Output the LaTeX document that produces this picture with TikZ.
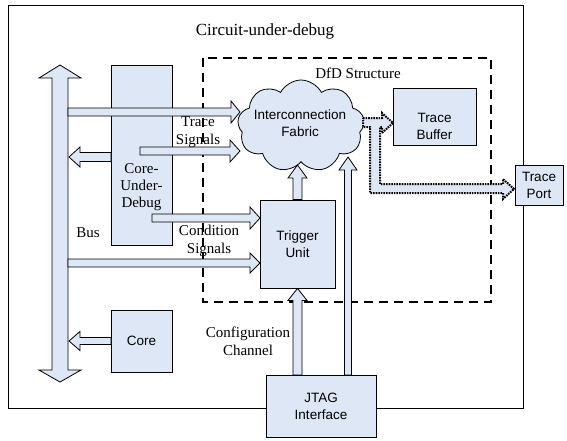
\documentclass[tikz,border=0pt]{standalone}
\usepackage{fontspec}
\setmainfont{Liberation Serif}
\newfontfamily\arialf{Liberation Sans}
\usetikzlibrary{shapes.symbols,calc}
\definecolor{boxfill}{RGB}{221,231,245}
\tikzset{
 box/.style={draw=black, fill=boxfill, line width=0.8pt, inner sep=0pt},
 sanslbl/.style={font=\arialf\fontsize{13.5}{17}\selectfont, align=center, inner sep=0pt},
 seriflbl/.style={font=\fontsize{15}{18}\selectfont, align=center, inner sep=0pt},
 barrow/.style={draw=black, fill=boxfill, line width=0.8pt, line join=miter},
 dotarrow/.style={draw=black, fill=boxfill, line width=2pt, dash pattern=on 1.6pt off 1pt},
}
% horizontal block arrow: tail, tip, half shaft, half head, signed head length
\newcommand\harr[5]{%
 \draw[barrow] ($#1+(0,{-(#3)})$) -- ($#2+({-(#5)},{-(#3)})$) -- ($#2+({-(#5)},{-(#4)})$) -- #2
  -- ($#2+({-(#5)},#4)$) -- ($#2+({-(#5)},#3)$) -- ($#1+(0,#3)$) -- cycle;}
% vertical block arrow
\newcommand\varr[5]{%
 \draw[barrow] ($#1+({-(#3)},0)$) -- ($#2+({-(#3)},{-(#5)})$) -- ($#2+({-(#4)},{-(#5)})$) -- #2
  -- ($#2+(#4,{-(#5)})$) -- ($#2+(#3,{-(#5)})$) -- ($#1+(#3,0)$) -- cycle;}
\begin{document}
\begin{tikzpicture}[x=1pt,y=-1pt]
\useasboundingbox (0,0) rectangle (567,440);
% outer frame
\draw[line width=1pt] (8,5) rectangle (523,408);
\node[font=\fontsize{17}{20}\selectfont, inner sep=0pt] (title) at (265,31) {Circuit-under-debug};
% DfD dashed frame
\draw[line width=1.8pt, dash pattern=on 9pt off 6pt] (203,58) rectangle (491,302);
\node[seriflbl] (dfdlbl) at (358,73) {DfD Structure};
% boxes
\node[box, minimum width=61pt, minimum height=180pt] (cud) at (141.5,155) {};
\node[seriflbl, font=\fontsize{15}{17}\selectfont] (cudtxt) at (141.5,187) {Core-\\Under-\\Debug};
\node[box, minimum width=61pt, minimum height=62pt, sanslbl] (core) at (141.5,341) {Core};
\node[box, minimum width=75pt, minimum height=88pt, sanslbl] (trig) at (297.5,244) {Trigger\\Unit};
\node[box, minimum width=83pt, minimum height=57pt] (tbuf) at (434.5,116.5) {};
\node[sanslbl] (tbuftxt) at (434.5,126) {Trace\\Buffer};
\node[box, minimum width=48pt, minimum height=40pt, sanslbl] (tport) at (539,185) {Trace\\Port};
\node[box, cloud, cloud puffs=9, cloud puff arc=125, cloud ignores aspect,
      minimum width=127pt, minimum height=92pt] (fab) at (301,126) {};
\node[sanslbl] (fabtxt) at (300,123) {Interconnection\\Fabric};
% bus double arrow
\coordinate (bustop) at (60,65);
\coordinate (busbot) at (60,382);
\draw[barrow] (bustop) -- (81,78) -- (68,78) -- (68,370) -- (81,370) -- (busbot)
  -- (39,370) -- (52,370) -- (52,78) -- (39,78) -- cycle;
\node[seriflbl] (buslbl) at (88,233) {Bus};
% block arrows
\coordinate (a1s) at (68,112);  \coordinate (a1e) at (240,112);
\harr{(a1s)}{(a1e)}{4}{11}{9}
\coordinate (a2s) at (111,157);  \coordinate (a2e) at (69,157);
\harr{(a2s)}{(a2e)}{4.5}{10}{-11}
\coordinate (a3s) at (140,151); \coordinate (a3e) at (240,151);
\harr{(a3s)}{(a3e)}{4}{11}{10}
\coordinate (a4s) at (152,218); \coordinate (a4e) at (260,218);
\harr{(a4s)}{(a4e)}{4}{11}{10}
\coordinate (a5s) at (68,263); \coordinate (a5e) at (260,263);
\harr{(a5s)}{(a5e)}{4}{10}{10}
\coordinate (a6s) at (111,341); \coordinate (a6e) at (69,341);
\harr{(a6s)}{(a6e)}{3.5}{9.5}{-11}
\coordinate (a7e) at (297.5,165);
\varr{(trig.north)}{(a7e)}{4.5}{9.5}{-13}
\coordinate (a8s) at (348,375); \coordinate (a8e) at (348,157);
\varr{(a8s)}{(a8e)}{3.5}{9}{-13}
\coordinate (a9s) at (297.5,375);
\varr{(a9s)}{(trig.south)}{4.5}{9.5}{-12}
% JTAG box (drawn over the vertical arrows' ends)
\node[box, minimum width=110pt, minimum height=62pt, sanslbl] (jtag) at (321,406) {JTAG\\Interface};
% dotted trace path
\coordinate (d1) at (393,123);
\coordinate (d2) at (514,189);
\draw[dotarrow] (363,118) -- (382,118) -- (382,113) -- (d1) -- (382,133) -- (382,127)
  -- (380,127) -- (380,184) -- (503,184) -- (503,179) -- (d2) -- (503,199)
  -- (503,193) -- (370,193) -- (370,127) -- (363,127) -- cycle;
% labels
\node[seriflbl] (trsig) at (198,132) {Trace\\Signals};
\node[seriflbl] (condsig) at (209,241) {Condition\\Signals};
\node[seriflbl] (cfg) at (248,341) {Configuration\\Channel};
\end{tikzpicture}
\end{document}
